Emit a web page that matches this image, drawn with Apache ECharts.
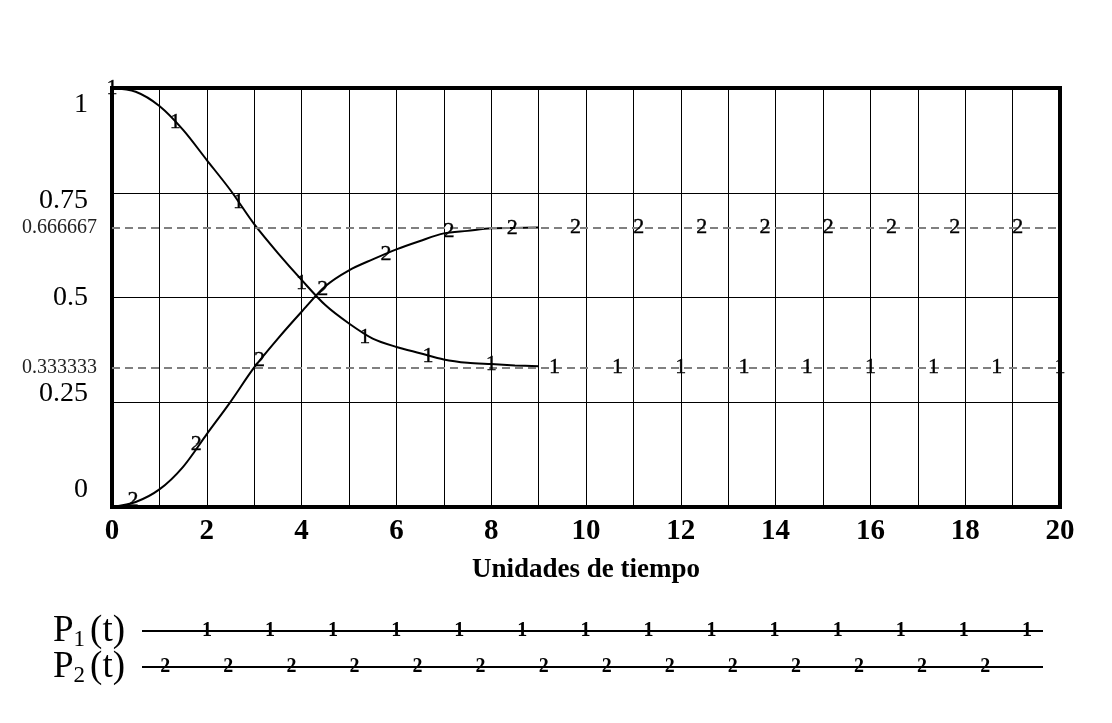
<!DOCTYPE html>
<html>
<head>
<meta charset="utf-8">
<script src="https://cdn.jsdelivr.net/npm/echarts@6/dist/echarts.min.js"></script>
<style>
  html, body { margin: 0; padding: 0; background: #fff; }
  #chart { width: 1112px; height: 723px; }
</style>
</head>
<body>
<div id="chart"></div>
<script>
// Tiempos donde se leyeron las curvas
const tiempos = [0, 0.5, 1, 1.5, 2, 2.5, 3, 3.5, 4, 4.5, 5, 5.5, 6, 6.5, 7, 7.5, 8, 8.5, 9];
const p1Valores = [1.0, 0.991, 0.957, 0.900, 0.828, 0.756, 0.675, 0.606, 0.542, 0.482, 0.438, 0.402, 0.382, 0.367, 0.352, 0.344, 0.341, 0.338, 0.336];
const p2Valores = [0.0, 0.012, 0.042, 0.096, 0.174, 0.251, 0.333, 0.402, 0.466, 0.527, 0.565, 0.591, 0.615, 0.635, 0.653, 0.659, 0.665, 0.666, 0.667];

// Marcadores numéricos sobre las curvas
const p1MarcasT = [0, 1.333, 2.667, 4, 5.333, 6.667, 8, 9.333, 10.667, 12, 13.333, 14.667, 16, 17.333, 18.667, 20];
const p1MarcasV = [1.0, 0.919, 0.728, 0.535, 0.406, 0.360, 0.340, 0.3333, 0.3333, 0.3333, 0.3333, 0.3333, 0.3333, 0.3333, 0.3333, 0.3333];
const p2MarcasT = [0.444, 1.778, 3.111, 4.444, 5.778, 7.111, 8.444, 9.778, 11.111, 12.444, 13.778, 15.111, 16.444, 17.778, 19.111];
const p2MarcasV = [0.016, 0.151, 0.350, 0.519, 0.604, 0.657, 0.666, 0.6667, 0.6667, 0.6667, 0.6667, 0.6667, 0.6667, 0.6667, 0.6667];

// Valores de equilibrio (líneas punteadas)
const equilibrios = [0.666667, 0.333333];
const equilibriosTexto = ['0.666667', '0.333333'];

// Leyenda
const leyendaNombres = ['P2', 'P1'];
const leyenda1T = [1.37, 2.70, 4.03, 5.36, 6.69, 8.02, 9.35, 10.68, 12.01, 13.34, 14.67, 16.00, 17.33, 18.66];
const leyenda2T = [0.49, 1.82, 3.15, 4.48, 5.81, 7.14, 8.47, 9.80, 11.13, 12.46, 13.79, 15.12, 16.45, 17.78];

const serif = "'Liberation Serif', 'Times New Roman', serif";

const par = (xs, ys) => xs.map((x, i) => [x, ys[i]]);

const chart = echarts.init(document.getElementById('chart'));

const etiquetasY = { 1: 'a', 0.75: 'b', 0.5: 'c', 0.25: 'd', 0: 'e' };

const marcaLabel = {
    show: true,
    position: 'inside',
    color: '#000',
    opacity: 1,
    fontFamily: serif,
    fontSize: 22,
    textBorderColor: '#000',
    textBorderWidth: 0.4
};

const option = {
    backgroundColor: '#fff',
    animation: false,
    grid: [
        { left: 112, right: 52, top: 88, bottom: 216, show: true, borderColor: '#000', borderWidth: 4, z: 5 },
        { left: 142, right: 69, top: 631, height: 36 }
    ],
    xAxis: [
        {
            type: 'value', min: 0, max: 20, interval: 1, gridIndex: 0,
            axisLine: { show: false },
            axisTick: { show: false },
            splitLine: { show: true, lineStyle: { color: '#000', width: 1 } },
            axisLabel: {
                margin: 10,
                color: '#000', fontFamily: serif, fontWeight: 'bold', fontSize: 29,
                formatter: v => (v % 2 === 0 ? String(v) : '')
            },
            name: 'Unidades de tiempo',
            nameLocation: 'middle',
            nameGap: 50,
            nameTextStyle: { color: '#000', fontFamily: serif, fontWeight: 'bold', fontSize: 27 }
        },
        {
            type: 'value', min: 0, max: 19, gridIndex: 1,
            show: false
        }
    ],
    yAxis: [
        {
            type: 'value', min: 0, max: 1, interval: 0.25, gridIndex: 0,
            axisLine: { show: false },
            axisTick: { show: false },
            splitLine: { show: true, lineStyle: { color: '#000', width: 1 } },
            axisLabel: {
                margin: 24,
                color: '#000', fontFamily: serif, fontSize: 28,
                formatter: v => '{' + etiquetasY[v] + '|' + v + '}',
                rich: {
                    a: { fontFamily: serif, fontSize: 28, padding: [34, 0, 0, 0] },
                    b: { fontFamily: serif, fontSize: 28, padding: [16, 0, 0, 0] },
                    c: { fontFamily: serif, fontSize: 28 },
                    d: { fontFamily: serif, fontSize: 28, padding: [0, 0, 17, 0] },
                    e: { fontFamily: serif, fontSize: 28, padding: [0, 0, 34, 0] }
                }
            }
        },
        {
            type: 'category', data: leyendaNombres, gridIndex: 1, boundaryGap: false,
            axisLine: { show: false },
            axisTick: { show: false },
            splitLine: { show: false },
            axisLabel: {
                margin: 17,
                interval: 0,
                formatter: v => '{p|P}{s|' + v.slice(1) + '}{p|(t)}',
                rich: {
                    p: { fontFamily: serif, fontSize: 37, color: '#000' },
                    s: { fontFamily: serif, fontSize: 23, color: '#000', padding: [18, 5, 0, 0] }
                }
            }
        }
    ],
    series: [
        {
            name: 'P1', type: 'line', xAxisIndex: 0, yAxisIndex: 0,
            data: par(tiempos, p1Valores),
            smooth: 0.3, showSymbol: false,
            lineStyle: { color: '#000', width: 2 },
            z: 3,
            markLine: {
                silent: true, symbol: 'none', precision: 6,
                lineStyle: { color: '#808080', width: 2, type: [8, 5] },
                label: {
                    show: true, position: 'start', distance: 15,
                    color: '#222', fontFamily: serif, fontSize: 20,
                    formatter: p => equilibriosTexto[p.dataIndex]
                },
                data: equilibrios.map(v => ({ yAxis: v }))
            }
        },
        {
            name: 'P2', type: 'line', xAxisIndex: 0, yAxisIndex: 0,
            data: par(tiempos, p2Valores),
            smooth: 0.3, showSymbol: false,
            lineStyle: { color: '#000', width: 2 },
            z: 3
        },
        {
            type: 'scatter', xAxisIndex: 0, yAxisIndex: 0,
            data: par(p1MarcasT, p1MarcasV),
            symbolSize: 1, itemStyle: { color: '#000', opacity: 1 },
            label: Object.assign({ formatter: '1' }, marcaLabel),
            z: 6
        },
        {
            type: 'scatter', xAxisIndex: 0, yAxisIndex: 0,
            data: par(p2MarcasT, p2MarcasV),
            symbolSize: 1, itemStyle: { color: '#000', opacity: 1 },
            label: Object.assign({ formatter: '2' }, marcaLabel),
            z: 6
        },
        // Leyenda
        {
            type: 'line', xAxisIndex: 1, yAxisIndex: 1,
            data: [[0, 'P1'], [19, 'P1']],
            showSymbol: false, lineStyle: { color: '#000', width: 2 }
        },
        {
            type: 'line', xAxisIndex: 1, yAxisIndex: 1,
            data: [[0, 'P2'], [19, 'P2']],
            showSymbol: false, lineStyle: { color: '#000', width: 2 }
        },
        {
            type: 'scatter', xAxisIndex: 1, yAxisIndex: 1,
            data: leyenda1T.map(t => [t, 'P1']),
            symbolSize: 1, itemStyle: { color: '#000', opacity: 1 },
            label: { show: true, position: 'inside', formatter: '1', color: '#000', fontFamily: serif, fontWeight: 'bold', fontSize: 20 }
        },
        {
            type: 'scatter', xAxisIndex: 1, yAxisIndex: 1,
            data: leyenda2T.map(t => [t, 'P2']),
            symbolSize: 1, itemStyle: { color: '#000', opacity: 1 },
            label: { show: true, position: 'inside', formatter: '2', color: '#000', fontFamily: serif, fontWeight: 'bold', fontSize: 20 }
        }
    ]
};

chart.setOption(option);
window.addEventListener('resize', () => chart.resize());
</script>
</body>
</html>
